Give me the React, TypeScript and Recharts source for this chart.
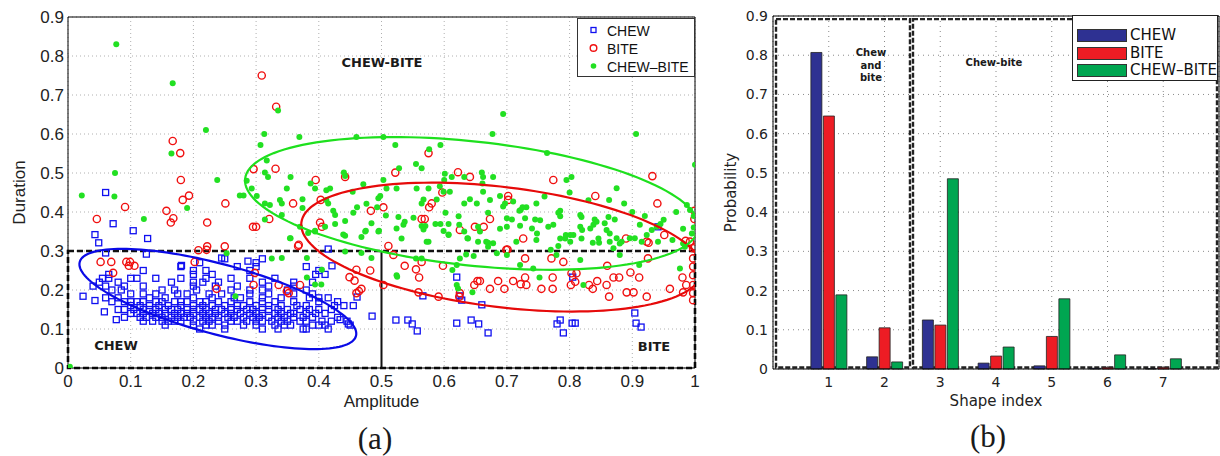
import React from 'react';
import {
  ScatterChart, Scatter, XAxis, YAxis, CartesianGrid, ReferenceArea, ReferenceLine,
  BarChart, Bar,
} from 'recharts';

// ---------------- (a) scatter data ----------------
// CHEW squares: rows of [duration, amplitudes]
const CHEW_ROWS: [number, number[]][] = [
  [0.28, [0.25, 0.31]],
  [0.27, [0.21, 0.3]],
  [0.26, [0.18, 0.27, 0.3, 0.38]],
  [0.25, [0.12, 0.2, 0.22, 0.29, 0.4]],
  [0.24, [0.065, 0.2, 0.23, 0.395, 0.41]],
  [0.23, [0.055, 0.065, 0.1, 0.11, 0.14, 0.18, 0.22, 0.26, 0.29, 0.33]],
  [0.22, [0.05, 0.08, 0.165, 0.2, 0.215, 0.24, 0.31, 0.36, 0.39]],
  [0.21, [0.04, 0.06, 0.09, 0.12, 0.2, 0.235, 0.27, 0.32, 0.36]],
  [0.2, [0.07, 0.085, 0.15, 0.17, 0.205, 0.26, 0.29, 0.31, 0.35, 0.38]],
  [0.19, [0.1, 0.12, 0.14, 0.175, 0.19, 0.225, 0.245, 0.29, 0.32, 0.36, 0.39]],
  [0.18, [0.06, 0.08, 0.13, 0.155, 0.2, 0.23, 0.265, 0.275, 0.31, 0.34, 0.385, 0.4, 0.415]],
  [0.17, [0.07, 0.09, 0.1, 0.11, 0.12, 0.14, 0.15, 0.17, 0.18, 0.19, 0.21, 0.22, 0.24, 0.26, 0.29, 0.31, 0.33, 0.36, 0.4, 0.43]],
  [0.16, [0.1, 0.115, 0.13, 0.145, 0.16, 0.18, 0.2, 0.215, 0.23, 0.25, 0.27, 0.28, 0.3, 0.32, 0.34, 0.365, 0.38, 0.425, 0.44]],
  [0.15, [0.08, 0.09, 0.105, 0.12, 0.13, 0.14, 0.155, 0.165, 0.175, 0.19, 0.2, 0.21, 0.22, 0.235, 0.245, 0.26, 0.27, 0.285, 0.295, 0.31, 0.32, 0.335, 0.35, 0.37, 0.385, 0.4, 0.42]],
  [0.14, [0.1, 0.11, 0.12, 0.135, 0.145, 0.155, 0.17, 0.18, 0.19, 0.2, 0.215, 0.225, 0.235, 0.25, 0.26, 0.275, 0.29, 0.3, 0.31, 0.33, 0.34, 0.355, 0.36, 0.38, 0.395, 0.41]],
  [0.13, [0.09, 0.115, 0.125, 0.14, 0.15, 0.165, 0.175, 0.185, 0.195, 0.21, 0.22, 0.23, 0.24, 0.255, 0.265, 0.28, 0.295, 0.305, 0.32, 0.335, 0.345, 0.36, 0.375, 0.39, 0.43]],
  [0.12, [0.12, 0.135, 0.15, 0.16, 0.17, 0.18, 0.2, 0.215, 0.225, 0.24, 0.26, 0.27, 0.285, 0.3, 0.31, 0.325, 0.34, 0.35, 0.37, 0.38, 0.405, 0.42, 0.445]],
  [0.11, [0.155, 0.2, 0.22, 0.23, 0.25, 0.28, 0.3, 0.33, 0.345, 0.355, 0.39, 0.4, 0.41, 0.45]],
  [0.1, [0.21, 0.25, 0.31, 0.335, 0.375, 0.38, 0.415]],
];
const CHEW_EXTRA: [number, number][] = [
  [0.043, 0.342], [0.049, 0.321], [0.104, 0.352], [0.127, 0.332], [0.06, 0.45], [0.072, 0.37],
  [0.415, 0.305], [0.941, 0.362], [0.125, 0.292], [0.06, 0.295], [0.245, 0.282], [0.181, 0.263],
  [0.287, 0.274], [0.421, 0.262], [0.024, 0.184], [0.043, 0.173], [0.058, 0.144], [0.077, 0.124],
  [0.523, 0.123], [0.542, 0.123], [0.549, 0.113], [0.557, 0.095], [0.566, 0.185], [0.62, 0.233],
  [0.625, 0.185], [0.628, 0.174], [0.62, 0.115], [0.643, 0.123], [0.655, 0.113], [0.66, 0.162],
  [0.67, 0.09], [0.78, 0.113], [0.785, 0.123], [0.79, 0.09], [0.804, 0.115], [0.809, 0.115],
  [0.805, 0.233], [0.904, 0.141], [0.906, 0.115], [0.914, 0.105], [0.485, 0.133], [0.461, 0.182],
  [0.447, 0.113], [0.434, 0.124], [0.455, 0.16],
];
const BITE_POINTS: [number, number][] = [
  [0.046, 0.382], [0.091, 0.413], [0.157, 0.403], [0.164, 0.373], [0.168, 0.384], [0.167, 0.582],
  [0.179, 0.551], [0.18, 0.482], [0.183, 0.431], [0.193, 0.442], [0.222, 0.373], [0.251, 0.422],
  [0.309, 0.75], [0.332, 0.67], [0.296, 0.51], [0.331, 0.511], [0.321, 0.382], [0.295, 0.362],
  [0.3, 0.362], [0.359, 0.422], [0.395, 0.482], [0.403, 0.431], [0.402, 0.373], [0.405, 0.362],
  [0.442, 0.49], [0.483, 0.403], [0.503, 0.412], [0.522, 0.501], [0.575, 0.551], [0.622, 0.502],
  [0.641, 0.49], [0.597, 0.45], [0.58, 0.422], [0.576, 0.412], [0.774, 0.482], [0.841, 0.441],
  [0.932, 0.492], [0.94, 0.422], [0.702, 0.441], [0.702, 0.431], [0.564, 0.382], [0.569, 0.382],
  [0.673, 0.382], [0.649, 0.362], [0.663, 0.362], [0.625, 0.354], [0.999, 0.403], [0.999, 0.382],
  [0.367, 0.313], [0.511, 0.313], [0.726, 0.332], [0.89, 0.332], [0.951, 0.341], [0.926, 0.321],
  [0.701, 0.304], [0.992, 0.324], [1.0, 0.311], [0.519, 0.29], [0.537, 0.262], [0.555, 0.253],
  [0.56, 0.232], [0.559, 0.194], [0.503, 0.213], [0.564, 0.272], [0.598, 0.262], [0.591, 0.183],
  [0.625, 0.192], [0.624, 0.183], [0.648, 0.213], [0.653, 0.223], [0.657, 0.223], [0.673, 0.203],
  [0.686, 0.223], [0.696, 0.203], [0.699, 0.303], [0.71, 0.223], [0.722, 0.215], [0.729, 0.232],
  [0.731, 0.213], [0.729, 0.281], [0.755, 0.203], [0.773, 0.203], [0.771, 0.281], [0.773, 0.232],
  [0.79, 0.272], [0.802, 0.213], [0.803, 0.243], [0.811, 0.243], [0.809, 0.221], [0.831, 0.213],
  [0.837, 0.203], [0.844, 0.223], [0.859, 0.213], [0.863, 0.183], [0.86, 0.262], [0.87, 0.232],
  [0.879, 0.232], [0.891, 0.194], [0.902, 0.194], [0.911, 0.232], [0.923, 0.183], [0.925, 0.281],
  [0.897, 0.245], [0.96, 0.203], [0.98, 0.232], [0.981, 0.194], [0.986, 0.213], [0.997, 0.307],
  [0.997, 0.281], [0.997, 0.26], [0.997, 0.238], [0.997, 0.213], [0.997, 0.192], [0.997, 0.174],
  [0.985, 0.326], [0.923, 0.324], [0.052, 0.272], [0.069, 0.272], [0.093, 0.272], [0.099, 0.272],
  [0.097, 0.262], [0.106, 0.262], [0.072, 0.244], [0.202, 0.272], [0.208, 0.302], [0.222, 0.312],
  [0.25, 0.312], [0.237, 0.203], [0.298, 0.244], [0.296, 0.213], [0.336, 0.213], [0.349, 0.197],
  [0.352, 0.192], [0.37, 0.213], [0.368, 0.316], [0.46, 0.252], [0.449, 0.233], [0.457, 0.224],
  [0.468, 0.203], [0.46, 0.192], [0.464, 0.197], [0.482, 0.25], [0.221, 0.303],
];
const CHEW_BITE_POINTS: [number, number][] = [
  [0.077, 0.83], [0.167, 0.73], [0.22, 0.61], [0.335, 0.66], [0.313, 0.6], [0.307, 0.572],
  [0.369, 0.592], [0.46, 0.592], [0.503, 0.592], [0.522, 0.572], [0.576, 0.561], [0.594, 0.572],
  [0.555, 0.523], [0.564, 0.512], [0.528, 0.512], [0.694, 0.651], [0.677, 0.6], [0.906, 0.6],
  [0.764, 0.551], [1.0, 0.521], [0.165, 0.55], [0.075, 0.5], [0.022, 0.442], [0.074, 0.44],
  [0.19, 0.41], [0.121, 0.382], [0.238, 0.482], [0.285, 0.48], [0.274, 0.442], [0.28, 0.442],
  [0.317, 0.532], [0.314, 0.501], [0.319, 0.49], [0.355, 0.49], [0.387, 0.473], [0.394, 0.46],
  [0.44, 0.501], [0.442, 0.492], [0.471, 0.471], [0.503, 0.482], [0.508, 0.46], [0.524, 0.46],
  [0.556, 0.46], [0.575, 0.46], [0.593, 0.466], [0.6, 0.482], [0.612, 0.49], [0.632, 0.49],
  [0.641, 0.433], [0.632, 0.422], [0.623, 0.389], [0.599, 0.452], [0.609, 0.452], [0.564, 0.422],
  [0.567, 0.432], [0.588, 0.432], [0.602, 0.398], [0.586, 0.369], [0.594, 0.369], [0.607, 0.369],
  [0.564, 0.364], [0.57, 0.364], [0.567, 0.355], [0.599, 0.351], [0.607, 0.342], [0.624, 0.367],
  [0.632, 0.35], [0.637, 0.333], [0.575, 0.324], [0.537, 0.375], [0.535, 0.367], [0.524, 0.358],
  [0.551, 0.385], [0.527, 0.387], [0.507, 0.391], [0.496, 0.352], [0.475, 0.352], [0.484, 0.371],
  [0.468, 0.336], [0.493, 0.412], [0.495, 0.435], [0.498, 0.441], [0.476, 0.421], [0.461, 0.412],
  [0.455, 0.398], [0.442, 0.377], [0.426, 0.392], [0.423, 0.403], [0.415, 0.422], [0.412, 0.431],
  [0.442, 0.339], [0.426, 0.369], [0.41, 0.362], [0.394, 0.352], [0.37, 0.362], [0.355, 0.333],
  [0.374, 0.433], [0.374, 0.41], [0.349, 0.46], [0.338, 0.431], [0.341, 0.422], [0.322, 0.418],
  [0.314, 0.422], [0.293, 0.46], [0.301, 0.441], [0.314, 0.381], [0.341, 0.392], [0.412, 0.456],
  [0.418, 0.46], [0.454, 0.452], [0.601, 0.498], [0.66, 0.501], [0.662, 0.49], [0.661, 0.473],
  [0.678, 0.49], [0.795, 0.482], [0.803, 0.49], [0.875, 0.461], [0.863, 0.431], [0.887, 0.422],
  [0.652, 0.422], [0.673, 0.431], [0.689, 0.441], [0.694, 0.414], [0.697, 0.422], [0.71, 0.427],
  [0.722, 0.405], [0.731, 0.412], [0.747, 0.422], [0.67, 0.398], [0.782, 0.398], [0.785, 0.389],
  [0.819, 0.387], [0.862, 0.387], [0.84, 0.381], [0.843, 0.375], [0.872, 0.381], [0.912, 0.367],
  [0.987, 0.418], [0.992, 0.405], [0.981, 0.357], [0.7, 0.384], [0.708, 0.381], [0.721, 0.365],
  [0.729, 0.384], [0.745, 0.381], [0.753, 0.379], [0.766, 0.362], [0.774, 0.367], [0.689, 0.357],
  [0.7, 0.362], [0.74, 0.358], [0.748, 0.345], [0.794, 0.341], [0.801, 0.341], [0.806, 0.341],
  [0.817, 0.362], [0.82, 0.354], [0.833, 0.358], [0.838, 0.367], [0.856, 0.371], [0.859, 0.354],
  [0.864, 0.345], [0.875, 0.333], [0.883, 0.324], [0.896, 0.333], [0.904, 0.333], [0.915, 0.324],
  [0.923, 0.341], [0.931, 0.354], [0.939, 0.362], [0.945, 0.369], [0.964, 0.328], [0.782, 0.313],
  [0.837, 0.321], [0.847, 0.321], [0.654, 0.362], [0.657, 0.35], [0.667, 0.324], [0.67, 0.321],
  [0.662, 0.452], [0.725, 0.412], [0.72, 0.403], [0.785, 0.403], [0.817, 0.392], [0.76, 0.44],
  [0.8, 0.45], [0.83, 0.43], [0.9, 0.4], [0.92, 0.39], [0.95, 0.38], [0.97, 0.4],
  [0.253, 0.294], [0.325, 0.281], [0.341, 0.282], [0.354, 0.333], [0.381, 0.282], [0.383, 0.346],
  [0.394, 0.35], [0.439, 0.342], [0.474, 0.35], [0.495, 0.35], [0.442, 0.299], [0.468, 0.295],
  [0.484, 0.282], [0.405, 0.252], [0.381, 0.232], [0.394, 0.214], [0.404, 0.214], [0.267, 0.184],
  [0.003, 0.003], [0.524, 0.238], [0.532, 0.332], [0.572, 0.324], [0.607, 0.341], [0.638, 0.332],
  [0.654, 0.324], [0.67, 0.311], [0.715, 0.324], [0.747, 0.328], [0.785, 0.332], [0.793, 0.332],
  [0.819, 0.332], [0.846, 0.332], [0.864, 0.324], [0.88, 0.319], [0.941, 0.324], [0.981, 0.319],
  [0.555, 0.281], [0.564, 0.281], [0.525, 0.234], [0.625, 0.281], [0.62, 0.264], [0.613, 0.251],
  [0.62, 0.213], [0.622, 0.204], [0.645, 0.194], [0.635, 0.291], [0.647, 0.287], [0.678, 0.32],
  [0.684, 0.294], [0.7, 0.29], [0.721, 0.264], [0.742, 0.255], [0.752, 0.232], [0.77, 0.303],
  [0.779, 0.29], [0.817, 0.277], [0.822, 0.213], [0.87, 0.307], [0.88, 0.29], [0.911, 0.264],
  [0.976, 0.255], [0.984, 0.311], [0.801, 0.324], [0.998, 0.36], [0.998, 0.39], [0.995, 0.345],
];
// Fitted ellipses: centre and two semi-axis vectors (data units)
const ELLIPSES = [
  { cx: 0.239, cy: 0.177, ax: 0.2203, ay: -0.0949, bx: -0.01445, by: -0.0867, color: '#0a0ae6' },
  { cx: 0.692, cy: 0.31, ax: 0.3198, ay: -0.0631, bx: -0.01166, by: -0.1527, color: '#e60a0a' },
  { cx: 0.644, cy: 0.422, ax: 0.3615, ay: -0.0632, bx: -0.01068, by: -0.158, color: '#1ee01e' },
];
const X_TICKS_A = [0, 0.1, 0.2, 0.3, 0.4, 0.5, 0.6, 0.7, 0.8, 0.9, 1];
const Y_TICKS_A = [0, 0.1, 0.2, 0.3, 0.4, 0.5, 0.6, 0.7, 0.8, 0.9];

// ---------------- (b) bar data ----------------
const SHAPE_INDEX = [1, 2, 3, 4, 5, 6, 7];
const P_CHEW = [0.807, 0.031, 0.125, 0.015, 0.008, 0.002, 0.001];
const P_BITE = [0.645, 0.105, 0.112, 0.033, 0.083, 0.004, 0.004];
const P_CHEW_BITE = [0.189, 0.018, 0.485, 0.056, 0.179, 0.036, 0.026];
const Y_TICKS_B = [0, 0.1, 0.2, 0.3, 0.4, 0.5, 0.6, 0.7, 0.8, 0.9];

const chewData = [
  ...CHEW_ROWS.flatMap(([y, xs]) => xs.map((x) => ({ x, y }))),
  ...CHEW_EXTRA.map(([x, y]) => ({ x, y })),
];
const biteData = BITE_POINTS.map(([x, y]) => ({ x, y }));
const cbData = CHEW_BITE_POINTS.map(([x, y]) => ({ x, y }));
const ellipseData = ELLIPSES.map((e) =>
  Array.from({ length: 145 }, (_, i) => {
    const t = (i / 144) * 2 * Math.PI;
    return { x: e.cx + e.ax * Math.cos(t) + e.bx * Math.sin(t), y: e.cy + e.ay * Math.cos(t) + e.by * Math.sin(t) };
  }),
);
const barData = SHAPE_INDEX.map((s, i) => ({ idx: s, chew: P_CHEW[i], bite: P_BITE[i], cb: P_CHEW_BITE[i] }));

const BLUE = '#1010f0';
const RED = '#f01010';
const GREEN = '#22e022';
const C_CHEW = '#2e3192';
const C_BITE = '#ed1c24';
const C_CB = '#00a651';
const FA = '"Liberation Sans", Arial, sans-serif';
const FB = '"DejaVu Sans", sans-serif';

const SquareMark = (p: any) => (
  <rect x={p.cx - 3} y={p.cy - 3} width={6} height={6} fill="none" stroke={BLUE} strokeWidth={1.3} />
);
const CircleMark = (p: any) => <circle cx={p.cx} cy={p.cy} r={3.6} fill="none" stroke={RED} strokeWidth={1.4} />;
const DotMark = (p: any) => <circle cx={p.cx} cy={p.cy} r={3} fill={GREEN} />;
const NoMark = () => <g />;

const Txt = ({ cx, cy, children, size, weight = 'normal', family, lh }: any) => (
  <div
    style={{
      position: 'absolute', left: cx - 150, width: 300, top: cy - lh / 2, height: lh, lineHeight: `${lh}px`,
      textAlign: 'center', fontSize: size, fontWeight: weight, fontFamily: family, color: '#1a1a1a', whiteSpace: 'nowrap',
    }}
  >
    {children}
  </div>
);

export default function App() {
  const tickA = { fontFamily: FA, fontSize: 17, fill: '#222' };
  const tickB = { fontFamily: FB, fontSize: 14, fill: '#222' };
  return (
    <div style={{ position: 'absolute', left: 0, top: 0, width: 1220, height: 456, overflow: 'hidden', background: '#fff' }}>
      <div style={{ position: 'absolute', left: 0, top: 0 }}>
        <ScatterChart width={720} height={456} margin={{ top: 17, right: 25, left: 0, bottom: 38 }}>
          <CartesianGrid stroke="#b0b0b0" strokeDasharray="1 3" />
          <XAxis
            type="number" dataKey="x" domain={[0, 1]} ticks={X_TICKS_A} allowDataOverflow height={50}
            tickSize={0} tickMargin={7} tick={tickA} stroke="#000"
            label={{ value: 'Amplitude', position: 'insideBottom', offset: 11, style: { fontFamily: FA, fontSize: 17, fill: '#222' } }}
          />
          <YAxis
            type="number" dataKey="y" domain={[0, 0.9]} ticks={Y_TICKS_A} allowDataOverflow width={68}
            tickSize={0} tickMargin={4} tick={tickA} stroke="#000"
            label={{ value: 'Duration', angle: -90, position: 'insideLeft', offset: 19, style: { textAnchor: 'middle', fontFamily: FA, fontSize: 17, fill: '#222' } }}
          />
          <YAxis
            yAxisId="r" orientation="right" mirror type="number" domain={[0, 0.9]} ticks={Y_TICKS_A}
            tickSize={5} stroke="#000" tickFormatter={() => ''}
          />
          <ReferenceLine y={0.9} stroke="#000" strokeWidth={1} />
          <Scatter data={chewData} shape={SquareMark} isAnimationActive={false} />
          <Scatter data={biteData} shape={CircleMark} isAnimationActive={false} />
          <Scatter data={cbData} shape={DotMark} isAnimationActive={false} />
          {ellipseData.map((d, i) => (
            <Scatter
              key={i} data={d} shape={NoMark} line={{ stroke: ELLIPSES[i].color, strokeWidth: 2.2 }} lineType="joint"
              fill="none" isAnimationActive={false}
            />
          ))}
          <ReferenceArea x1={0} x2={1} y1={0} y2={0.3} fill="none" stroke="#111" strokeWidth={2.6} strokeDasharray="6 3" />
          <ReferenceLine segment={[{ x: 0.5, y: 0 }, { x: 0.5, y: 0.3 }]} stroke="#111" strokeWidth={2} />
        </ScatterChart>
      </div>

      <div style={{ position: 'absolute', left: 720, top: 0 }}>
        <BarChart width={502} height={456} data={barData} margin={{ top: 16, right: 3, left: 0, bottom: 47 }} barSize={11} barGap={1.5}>
          <CartesianGrid stroke="#8a8a8a" strokeDasharray="1 4" />
          <XAxis
            dataKey="idx" type="number" domain={[0, 8]} ticks={SHAPE_INDEX} allowDataOverflow height={40} tickSize={0} tickMargin={8} tick={tickB} stroke="#000"
            label={{ value: 'Shape index', position: 'insideBottom', offset: 3, style: { fontFamily: FB, fontSize: 15, fill: '#222' } }}
          />
          <YAxis
            type="number" domain={[0, 0.9]} ticks={Y_TICKS_B} width={53} tickSize={0} tickMargin={5} tick={tickB} stroke="#000"
            label={{ value: 'Probability', angle: -90, position: 'insideLeft', offset: 11, style: { textAnchor: 'middle', fontFamily: FB, fontSize: 15, fill: '#222' } }}
          />
          <YAxis yAxisId="r" orientation="right" mirror type="number" domain={[0, 0.9]} ticks={Y_TICKS_B} tickSize={5} stroke="#000" tickFormatter={() => ''} />
          <Bar dataKey="chew" fill={C_CHEW} stroke="#222" strokeWidth={0.8} isAnimationActive={false} />
          <Bar dataKey="bite" fill={C_BITE} stroke="#222" strokeWidth={0.8} isAnimationActive={false} />
          <Bar dataKey="cb" fill={C_CB} stroke="#222" strokeWidth={0.8} isAnimationActive={false} />
          <ReferenceLine y={0.9} stroke="#000" strokeWidth={1} />
          <ReferenceArea x1={0.054} x2={2.457} y1={0.004} y2={0.892} ifOverflow="visible" fill="none" stroke="#222" strokeWidth={2.4} strokeDasharray="5 2" />
          <ReferenceArea x1={2.511} x2={7.964} y1={0.004} y2={0.892} ifOverflow="visible" fill="none" stroke="#222" strokeWidth={2.4} strokeDasharray="5 2" />
        </BarChart>
      </div>

      {/* legend (a) */}
      <div style={{ position: 'absolute', left: 577, top: 18, width: 116, height: 57, border: '1px solid #333', background: '#fff', fontFamily: FA, fontSize: 14, color: '#111' }}>
        <svg width={20} height={57} style={{ position: 'absolute', left: 6, top: 0 }}>
          <rect x={7} y={8.5} width={5} height={5} fill="none" stroke={BLUE} strokeWidth={1.3} />
          <circle cx={9.5} cy={29} r={3.3} fill="none" stroke={RED} strokeWidth={1.4} />
          <circle cx={9.5} cy={47} r={2.8} fill={GREEN} />
        </svg>
        <div style={{ position: 'absolute', left: 29, top: 3, lineHeight: '18px' }}>CHEW<br />BITE<br />CHEW–BITE</div>
      </div>

      {/* legend (b) */}
      <div style={{ position: 'absolute', left: 1072, top: 15, width: 144, height: 64, border: '1px solid #222', background: '#fff', fontFamily: FB, fontSize: 15, color: '#111' }}>
        {([['CHEW', C_CHEW], ['BITE', C_BITE], ['CHEW–BITE', C_CB]] as [string, string][]).map(([t, c], i) => (
          <React.Fragment key={t}>
            <div style={{ position: 'absolute', left: 4, top: 13 + i * 17.5, width: 48, height: 11, background: c, border: '1px solid #333' }} />
            <div style={{ position: 'absolute', left: 57, top: 9 + i * 17.5, lineHeight: '20px' }}>{t}</div>
          </React.Fragment>
        ))}
      </div>

      <Txt cx={382} cy={63} size={13} weight="bold" family={FB} lh={16}>CHEW-BITE</Txt>
      <Txt cx={116} cy={346} size={13} weight="bold" family={FB} lh={16}>CHEW</Txt>
      <Txt cx={654} cy={347} size={13} weight="bold" family={FB} lh={16}>BITE</Txt>
      <Txt cx={871} cy={53} size={10} weight="bold" family={FB} lh={12}>Chew</Txt>
      <Txt cx={871} cy={65.5} size={10} weight="bold" family={FB} lh={12}>and</Txt>
      <Txt cx={871} cy={78} size={10} weight="bold" family={FB} lh={12}>bite</Txt>
      <Txt cx={994} cy={63} size={10} weight="bold" family={FB} lh={12}>Chew-bite</Txt>
      <Txt cx={375} cy={439} size={31} family={'"Liberation Serif", "DejaVu Serif", serif'} lh={36}>(a)</Txt>
      <Txt cx={988} cy={437} size={31} family={'"Liberation Serif", "DejaVu Serif", serif'} lh={36}>(b)</Txt>
    </div>
  );
}
